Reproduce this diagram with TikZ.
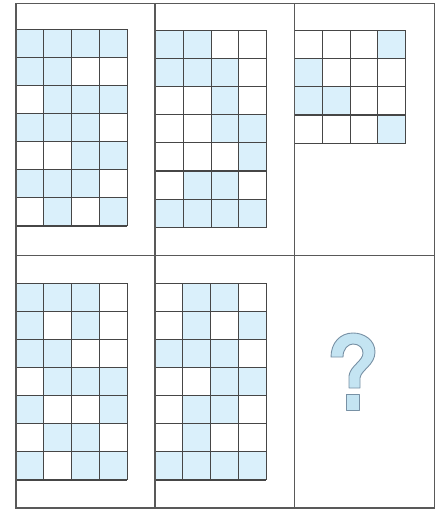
\documentclass[tikz,border=0pt]{standalone}
\definecolor{cellblue}{RGB}{218,240,251}
\definecolor{gridgray}{RGB}{70,70,70}
\definecolor{qfill}{RGB}{196,228,242}
\definecolor{qline}{RGB}{120,145,165}
\tikzset{
  gridline/.style={draw=gridgray, line width=1.1pt},
  frameline/.style={draw=gridgray!90, line width=1.2pt},
  bluecell/.style={fill=cellblue},
  qmark/.style={fill=qfill, draw=qline, line width=0.9pt, line join=round}
}
\newcommand{\mygrid}[5]{%
  \begin{scope}[shift={(#1,#2)}]
    \foreach \c/\r in {#5} {\fill[bluecell] ({(\c-1)*27.8},{(\r-1)*28.1}) rectangle ++(27.8,28.1);}
    \foreach \i in {0,...,#3} {\draw[gridline] ({\i*27.8},0) -- ({\i*27.8},{#4*28.1});}
    \foreach \j in {0,...,#4} {\draw[gridline] (0,{\j*28.1}) -- ({#3*27.8},{\j*28.1});}
  \end{scope}}
\begin{document}
\begin{tikzpicture}[x=1pt,y=-1pt]
  \useasboundingbox (0,0) rectangle (445,510);
  \fill[white] (0,0) rectangle (445,510);
  % grids
  \mygrid{16}{29.3}{4}{7}{1/1,2/1,3/1,4/1,1/2,2/2,2/3,3/3,4/3,1/4,2/4,3/4,3/5,4/5,1/6,2/6,3/6,2/7,4/7}
  \mygrid{155.5}{30.5}{4}{7}{1/1,2/1,1/2,2/2,3/2,3/3,3/4,4/4,4/5,2/6,3/6,1/7,2/7,3/7,4/7}
  \mygrid{294.5}{30.7}{4}{4}{4/1,1/2,1/3,2/3,4/4}
  \mygrid{16}{283.3}{4}{7}{1/1,2/1,3/1,1/2,3/2,1/3,2/3,2/4,3/4,4/4,1/5,4/5,2/6,3/6,1/7,3/7,4/7}
  \mygrid{155}{283.3}{4}{7}{2/1,3/1,2/2,4/2,1/3,2/3,3/3,3/4,4/4,2/5,3/5,2/6,1/7,2/7,3/7,4/7}
  % frame
  \draw[frameline] (16,3.5) rectangle (434.5,508);
  \draw[frameline] (155,3.5) -- (155,508);
  \draw[frameline] (294.5,3.5) -- (294.5,508);
  \draw[frameline] (16,255.5) -- (434.5,255.5);
  % question mark
  \draw[qmark] (331,357) -- (343,357)
    .. controls (343,349) and (348,344) .. (353,344)
    .. controls (359,344) and (363,348) .. (363,353)
    .. controls (363,361) and (350,366) .. (349,376)
    -- (349,388) -- (360,388) -- (360,378)
    .. controls (361,370) and (375,365) .. (375,352)
    .. controls (375,340) and (364,333) .. (353,333)
    .. controls (340,333) and (331,343) .. (331,357) -- cycle;
  \draw[qmark] (346,394) rectangle (359,410);
\end{tikzpicture}
\end{document}
